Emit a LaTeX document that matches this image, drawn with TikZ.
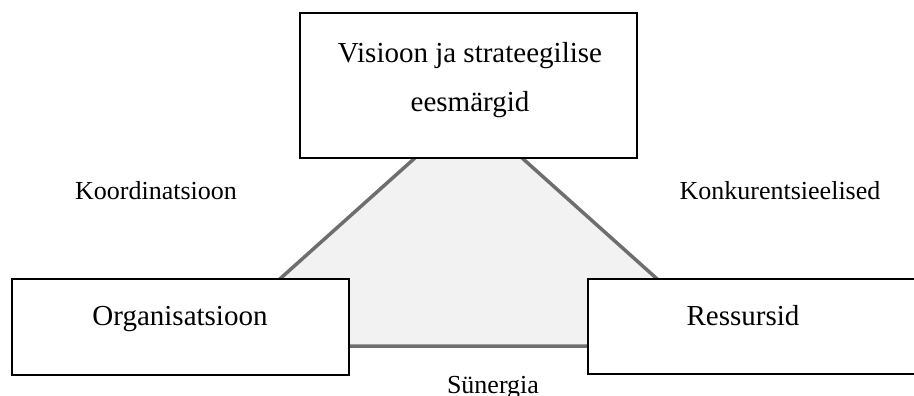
\documentclass[tikz,border=0pt]{standalone}
\usepackage{fontspec}
\setmainfont{Liberation Serif}
\begin{document}
\begin{tikzpicture}[x=1pt,y=-1pt,
  box/.style={draw=black,line width=1.5pt,fill=white,rectangle,inner sep=0pt},
  boxtext/.style={anchor=base,inner sep=0pt,font=\fontsize{29}{35}\selectfont},
  edgetext/.style={anchor=base,inner sep=0pt,font=\fontsize{26}{31}\selectfont},
  side/.style={draw=black!57,line width=3.5pt,line join=miter}]
\useasboundingbox (0,0) rectangle (914,396);
\clip (0,0) rectangle (914,396);
% corners of the shaded triangle (hidden under the boxes)
\coordinate (apex) at (468.5,110);
\coordinate (bl) at (205,346);
\coordinate (br) at (732,346);
\path[side,fill=black!5] (apex) -- (bl) -- (br) -- cycle;
% the three boxes
\node[box,minimum width=337pt,minimum height=145pt] (vis) at (468.5,85.5) {};
\node[box,minimum width=337pt,minimum height=96pt] (org) at (180.5,327) {};
\node[box,minimum width=337pt,minimum height=95pt] (res) at (756.5,326.5) {};
% box texts
\node[boxtext] (vis1) at (470,63) {Visioon ja strateegilise};
\node[boxtext] (vis2) at (470,112) {eesmärgid};
\node[boxtext] (orgt) at (180,325) {Organisatsioon};
\node[boxtext] (rest) at (743,325) {Ressursid};
% side labels
\node[edgetext] (koord) at (156,199) {Koordinatsioon};
\node[edgetext] (konk) at (780,199) {Konkurentsieelised};
\node[edgetext] (syn) at (493,393) {Sünergia};
\end{tikzpicture}
\end{document}
